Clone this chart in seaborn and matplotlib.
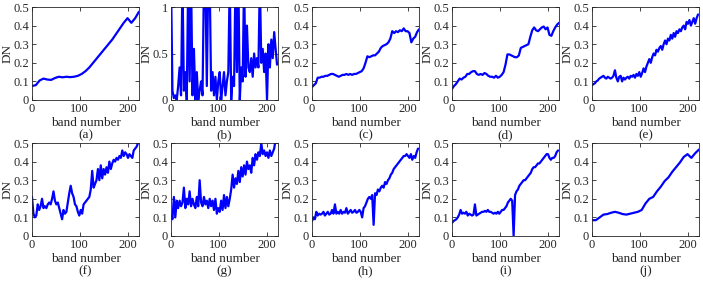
import numpy as np
import matplotlib
matplotlib.use("Agg")
import matplotlib.pyplot as plt
import seaborn as sns

sns.set_style("ticks")
plt.rcParams['font.family'] = ['Liberation Serif', 'DejaVu Serif']

# ---------------- data (band number -> DN) ----------------
step_a = 8
dn_a = [0.075, 0.08, 0.105, 0.115, 0.11, 0.108, 0.118, 0.125, 0.122, 0.125, 0.123, 0.125,
        0.13, 0.14, 0.155, 0.175, 0.2, 0.225, 0.25, 0.275, 0.3, 0.325, 0.355, 0.385, 0.415,
        0.44, 0.415, 0.44, 0.475]

step_b = 3
dn_b = [1.3, 0.1, 0.02, 0.05, 0.0, 0.15, 0.35, 0.05, 1.3, 0.1, 0.3, 0.0, 1.3, 0.2, 1.3, 0.05,
        0.55, 0.0, 0.3, 0.0, 0.1, 0.2, 0.05, 1.3, 1.3, 0.15, 1.3, 1.3, 0.1, 0.3, 0.05, 0.25,
        0.0, 0.2, 0.3, 0.0, 0.15, 0.3, 0.05, 0.2, 0.3, 1.3, 0.0, 0.25, 0.15, 1.3, 0.3, 1.3,
        0.0, 0.35, 0.2, 1.3, 0.25, 0.8, 0.35, 0.3, 0.45, 0.25, 0.5, 0.35, 0.45, 0.35, 1.3,
        0.4, 0.55, 0.3, 0.5, 0.0, 0.6, 0.35, 0.65, 0.45, 0.73, 0.55, 0.38]

step_c = 4
dn_c = [0.07, 0.08, 0.09, 0.12, 0.12, 0.125, 0.125, 0.13, 0.13, 0.135, 0.14, 0.14, 0.135,
        0.13, 0.125, 0.13, 0.135, 0.135, 0.14, 0.135, 0.14, 0.135, 0.14, 0.14, 0.145, 0.15,
        0.155, 0.17, 0.2, 0.235, 0.23, 0.235, 0.24, 0.24, 0.25, 0.26, 0.28, 0.29, 0.295, 0.3,
        0.31, 0.33, 0.37, 0.36, 0.37, 0.365, 0.375, 0.37, 0.385, 0.37, 0.37, 0.36, 0.31, 0.33,
        0.34, 0.365, 0.38]

step_d = 4
dn_d = [0.06, 0.075, 0.085, 0.1, 0.115, 0.11, 0.12, 0.125, 0.14, 0.14, 0.15, 0.155, 0.155,
        0.14, 0.135, 0.14, 0.135, 0.145, 0.14, 0.13, 0.125, 0.125, 0.12, 0.13, 0.12, 0.125,
        0.135, 0.15, 0.19, 0.245, 0.245, 0.24, 0.235, 0.23, 0.23, 0.24, 0.28, 0.285, 0.29,
        0.295, 0.3, 0.34, 0.375, 0.39, 0.375, 0.37, 0.38, 0.39, 0.395, 0.38, 0.39, 0.35,
        0.345, 0.37, 0.39, 0.405, 0.415]

step_e = 3
dn_e = [0.08, 0.085, 0.09, 0.1, 0.105, 0.115, 0.12, 0.125, 0.13, 0.12, 0.115, 0.125, 0.12,
        0.115, 0.12, 0.13, 0.16, 0.12, 0.1, 0.125, 0.13, 0.1, 0.12, 0.11, 0.12, 0.125, 0.115,
        0.13, 0.125, 0.135, 0.12, 0.14, 0.13, 0.15, 0.125, 0.145, 0.17, 0.15, 0.18, 0.2, 0.22,
        0.2, 0.23, 0.25, 0.24, 0.27, 0.26, 0.28, 0.29, 0.27, 0.3, 0.32, 0.3, 0.33, 0.32, 0.35,
        0.33, 0.36, 0.34, 0.37, 0.36, 0.38, 0.37, 0.39, 0.4, 0.38, 0.42, 0.41, 0.43, 0.4, 0.42,
        0.44, 0.41, 0.44, 0.46]

step_f = 3
dn_f = [0.21, 0.12, 0.1, 0.11, 0.17, 0.14, 0.16, 0.2, 0.15, 0.16, 0.15, 0.17, 0.18, 0.17,
        0.2, 0.24, 0.19, 0.17, 0.18, 0.15, 0.12, 0.09, 0.14, 0.12, 0.13, 0.18, 0.23, 0.27,
        0.23, 0.21, 0.17, 0.16, 0.13, 0.11, 0.14, 0.12, 0.17, 0.18, 0.19, 0.2, 0.21, 0.25,
        0.35, 0.26, 0.28, 0.3, 0.36, 0.3, 0.38, 0.31, 0.36, 0.33, 0.37, 0.34, 0.4, 0.36, 0.39,
        0.41, 0.4, 0.42, 0.41, 0.43, 0.42, 0.46, 0.43, 0.45, 0.44, 0.42, 0.44, 0.43, 0.42,
        0.46, 0.47, 0.48, 0.5]

step_g = 3
dn_g = [0.11, 0.09, 0.21, 0.1, 0.19, 0.15, 0.19, 0.16, 0.18, 0.26, 0.15, 0.2, 0.17, 0.24,
        0.16, 0.2, 0.17, 0.15, 0.21, 0.16, 0.3, 0.18, 0.16, 0.21, 0.17, 0.19, 0.15, 0.2, 0.16,
        0.19, 0.14, 0.2, 0.12, 0.15, 0.13, 0.19, 0.14, 0.22, 0.15, 0.21, 0.16, 0.2, 0.25, 0.33,
        0.26, 0.31, 0.28, 0.35, 0.29, 0.37, 0.32, 0.38, 0.33, 0.4, 0.36, 0.38, 0.34, 0.42,
        0.38, 0.44, 0.41, 0.45, 0.43, 0.5, 0.44, 0.46, 0.43, 0.45, 0.42, 0.46, 0.43, 0.45,
        0.47, 0.52, 0.5]

step_h = 3
dn_h = [0.08, 0.1, 0.09, 0.13, 0.11, 0.12, 0.115, 0.12, 0.13, 0.11, 0.12, 0.13, 0.115, 0.12,
        0.14, 0.12, 0.17, 0.12, 0.13, 0.12, 0.14, 0.12, 0.13, 0.125, 0.15, 0.12, 0.13, 0.14,
        0.125, 0.13, 0.14, 0.125, 0.13, 0.14, 0.13, 0.1, 0.15, 0.16, 0.18, 0.2, 0.21, 0.2,
        0.22, 0.06, 0.23, 0.22, 0.25, 0.24, 0.26, 0.27, 0.26, 0.29, 0.28, 0.3, 0.31, 0.33,
        0.34, 0.36, 0.37, 0.38, 0.39, 0.4, 0.41, 0.42, 0.43, 0.43, 0.44, 0.43, 0.42, 0.44,
        0.41, 0.43, 0.42, 0.45, 0.47]

step_i = 3
dn_i = [0.07, 0.08, 0.085, 0.09, 0.1, 0.115, 0.14, 0.12, 0.125, 0.12, 0.13, 0.11, 0.12,
        0.115, 0.11, 0.115, 0.17, 0.11, 0.115, 0.12, 0.125, 0.13, 0.13, 0.135, 0.13, 0.14,
        0.13, 0.13, 0.125, 0.12, 0.125, 0.12, 0.13, 0.12, 0.13, 0.14, 0.14, 0.15, 0.16, 0.18,
        0.19, 0.2, 0.19, 0.0, 0.22, 0.24, 0.25, 0.27, 0.28, 0.29, 0.3, 0.3, 0.31, 0.32, 0.33,
        0.34, 0.36, 0.37, 0.37, 0.38, 0.39, 0.39, 0.4, 0.41, 0.42, 0.43, 0.44, 0.44, 0.42,
        0.41, 0.42, 0.42, 0.43, 0.45, 0.46]

step_j = 8
dn_j = [0.085, 0.085, 0.1, 0.115, 0.118, 0.125, 0.13, 0.125, 0.118, 0.115, 0.12, 0.125,
        0.13, 0.14, 0.175, 0.2, 0.21, 0.24, 0.265, 0.295, 0.315, 0.345, 0.37, 0.395, 0.425,
        0.44, 0.42, 0.445, 0.465]

panel_labels = ["(a)", "(b)", "(c)", "(d)", "(e)", "(f)", "(g)", "(h)", "(i)", "(j)"]
x_ticks = [0, 100, 200]
y_ticks = [0, 0.1, 0.2, 0.3, 0.4, 0.5]
y_ticks_b = [0, 0.5, 1]

series = [(step_a, dn_a), (step_b, dn_b), (step_c, dn_c), (step_d, dn_d), (step_e, dn_e),
          (step_f, dn_f), (step_g, dn_g), (step_h, dn_h), (step_i, dn_i), (step_j, dn_j)]

# ---------------- figure ----------------
W, H = 703, 281
fig = plt.figure(figsize=(W / 100, H / 100), dpi=100)

lefts = [32, 171, 312, 452, 592]
tops = [7, 143]
aw, ah = 107, 93

axcol = "#262626"
for k, ((step, vals), lab) in enumerate(zip(series, panel_labels)):
    r, c = divmod(k, 5)
    l = lefts[c]
    t = tops[r]
    ax = fig.add_axes([l / W, 1 - (t + ah) / H, aw / W, ah / H])
    bands = np.arange(len(vals)) * step
    sns.lineplot(x=bands, y=vals, ax=ax, color=(0, 0, 1), linewidth=1.6)
    ax.set_xlim(0, 224)
    ax.set_xticks(x_ticks)
    if k == 1:
        ax.set_ylim(0, 1)
        ax.set_yticks(y_ticks_b)
        ax.set_yticklabels(["0", "0.5", "1"])
    else:
        ax.set_ylim(0, 0.5)
        ax.set_yticks(y_ticks)
        ax.set_yticklabels(["0", "0.1", "0.2", "0.3", "0.4", "0.5"])
    ax.tick_params(direction="in", length=3, width=0.6, labelsize=9, colors=axcol,
                   top=True, right=True, pad=2)
    for s in ax.spines.values():
        s.set_visible(True)
        s.set_linewidth(0.6)
        s.set_color(axcol)
    ax.set_xlabel("band number", fontsize=9.5, color=axcol)
    ax.xaxis.label.set_va("center")
    ax.xaxis.set_label_coords(0.5, -0.25)
    ax.set_ylabel("DN", fontsize=9.5, color=axcol)
    ax.yaxis.label.set_va("center")
    ax.yaxis.set_label_coords(-0.225, 0.5)
    ax.text(0.5, -0.375, lab, transform=ax.transAxes, ha="center", va="center",
            fontsize=9.5, color=axcol)

fig.savefig("out.png", dpi=100)
